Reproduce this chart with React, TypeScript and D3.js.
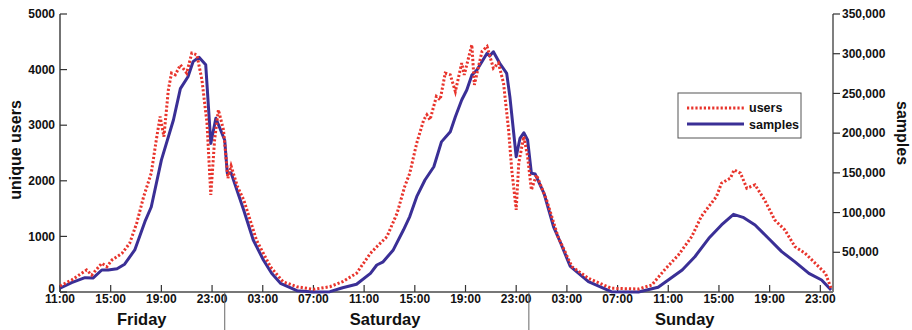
import React from "react";
import * as d3 from "d3";

// hours since Friday 11:00
const sampleHours = [0, 0.92, 1.97, 2.6, 3.3, 3.8, 4.5, 5.1, 5.9, 6.7, 7.2, 8.0, 8.95, 9.5, 10.1, 10.5, 10.97, 11.5, 11.9, 12.3, 13.0, 13.2, 13.5, 14.2, 14.5, 15.25, 16.05, 16.7, 17.4, 18.7, 20, 21.3, 22.3, 23.4, 24.5, 25, 25.5, 26.3, 27.1, 27.6, 28.15, 28.8, 29.5, 30.1, 30.8, 31.2, 31.7, 32.1, 32.5, 32.9, 33.7, 33.9, 34.2, 34.7, 35.25, 35.5, 36.0, 36.3, 36.6, 36.9, 37.2, 37.5, 38.2, 38.95, 39.5, 40.25, 41.7, 43.5, 45.65, 47.2, 48, 49.1, 50.1, 51.2, 52.2, 53.15, 53.9, 54.85, 55.9, 56.95, 58, 59.1, 60.1, 60.85];
const sampleValues = [4700, 11700, 18000, 17600, 27700, 27700, 29300, 35000, 53000, 88500, 107000, 166000, 216500, 256000, 271000, 290000, 295500, 286000, 187000, 218700, 191000, 149500, 150000, 117000, 103000, 65500, 40300, 23500, 11000, 1600, 0, 400, 5400, 9700, 23500, 34000, 38000, 53000, 78000, 95000, 120000, 141000, 157700, 189000, 201800, 220700, 241700, 254300, 273000, 279500, 300500, 297000, 302500, 288000, 275300, 246000, 170300, 193500, 200500, 191400, 149400, 148500, 124000, 82000, 62000, 32700, 13000, 400, 0, 5900, 15100, 27700, 44400, 67600, 84400, 97800, 94000, 84400, 67600, 50800, 38000, 23500, 15100, 2500];

const userHours = [0, 0.92, 2.1, 2.5, 3.3, 3.7, 4.1, 4.9, 5.5, 6.05, 6.6, 7.2, 7.6, 7.9, 8.2, 8.55, 8.8, 9.1, 9.5, 10.0, 10.4, 10.8, 11.2, 11.6, 11.9, 12.2, 12.5, 12.9, 13.25, 13.5, 14.0, 14.5, 15.5, 16.6, 17.6, 18.7, 20, 21.3, 22.3, 23.4, 24.5, 25, 25.8, 26.6, 27.2, 27.6, 28.15, 28.7, 28.95, 29.2, 29.7, 30.0, 30.4, 30.8, 31.2, 31.7, 31.9, 32.5, 32.7, 33.3, 33.7, 34.2, 34.6, 35.0, 35.4, 35.65, 36.0, 36.2, 36.6, 36.9, 37.2, 37.6, 38.4, 39.3, 40.4, 41.7, 43.5, 45.65, 46.7, 47.7, 48.8, 49.85, 50.6, 51.4, 51.8, 52.2, 52.9, 53.2, 53.7, 54.2, 54.85, 55.6, 56.4, 57.2, 58, 58.8, 59.6, 60.4, 60.85];
const userValues = [108, 216, 396, 306, 516, 455, 576, 697, 877, 1237, 1715, 2137, 2736, 3155, 2795, 3636, 3937, 3906, 4086, 3937, 4297, 4266, 3816, 3037, 1746, 2736, 3276, 2916, 2047, 2268, 1900, 1656, 936, 455, 185, 95, 48, 95, 185, 337, 697, 815, 995, 1417, 1895, 2137, 2677, 3096, 3186, 3096, 3516, 3456, 3937, 3906, 3606, 4117, 3906, 4446, 3726, 4326, 4416, 4026, 4117, 3757, 2916, 2196, 1476, 2317, 2796, 2436, 1836, 2106, 1656, 995, 455, 247, 67, 54, 126, 396, 666, 995, 1356, 1597, 1715, 1957, 2047, 2196, 2137, 1867, 1926, 1656, 1296, 1116, 815, 697, 516, 337, 67];

const hourTickPositions = [0, 4, 8, 12, 16, 20, 24, 28, 32, 36, 40, 44, 48, 52, 56, 60];
const hourTickLabels = ["11:00", "15:00", "19:00", "23:00", "03:00", "07:00", "11:00", "15:00", "19:00", "23:00", "03:00", "07:00", "11:00", "15:00", "19:00", "23:00"];
const dayNames = ["Friday", "Saturday", "Sunday"];
const dayLabelHours = [6.45, 25.65, 49.3];
const dayBoundaryHours = [13, 37];
const leftTicks = [0, 1000, 2000, 3000, 4000, 5000];
const rightTicks = [50000, 100000, 150000, 200000, 250000, 300000, 350000];
const seriesNames = ["users", "samples"];

const RED = "#e8342c";
const BLUE = "#3a2f96";
const FONT = "'Liberation Sans', Arial, Helvetica, sans-serif";

export default function App() {
  const W = 912, H = 330;
  const x0 = 60, x1 = 833, yTop = 14, yBot = 292;
  const x = d3.scaleLinear().domain([0, 61]).range([x0, x1]);
  const yL = d3.scaleLinear().domain([0, 5000]).range([yBot, yTop]);
  const yR = d3.scaleLinear().domain([0, 350000]).range([yBot, yTop]);

  const userLine = d3.line<number>().x((_, i) => x(userHours[i])).y((d) => yL(d))(userValues) || "";
  const sampleLine = d3.line<number>().x((_, i) => x(sampleHours[i])).y((d) => yR(d))(sampleValues) || "";
  const fmt = d3.format(",");

  return (
    <svg width={W} height={H} style={{ position: "absolute", left: 0, top: 0, display: "block", background: "#fff" }} fontFamily={FONT}>
      <rect x={0} y={0} width={W} height={H} fill="#fff" />
      {/* axes */}
      <line x1={x0} x2={x0} y1={yTop} y2={yBot} stroke="#444" strokeWidth={1.5} />
      <line x1={x1} x2={x1} y1={yTop} y2={yBot} stroke="#555" strokeWidth={1.5} />
      <line x1={x0} x2={x1} y1={yBot} y2={yBot} stroke="#777" strokeWidth={2} />
      {leftTicks.map((t) => (
        <g key={"l" + t}>
          <line x1={x0} x2={x0 + 7} y1={yL(t)} y2={yL(t)} stroke="#333" strokeWidth={1.2} />
          <text x={x0 - 5} y={yL(t) - (t === 0 ? 3 : 0)} dy="0.35em" textAnchor="end" fontSize={12} fontWeight="bold" fill="#111">{t}</text>
        </g>
      ))}
      {rightTicks.map((t) => (
        <g key={"r" + t}>
          <line x1={x1} x2={x1 + 7} y1={yR(t)} y2={yR(t)} stroke="#333" strokeWidth={1.2} />
          <text x={x1 + 9} y={yR(t)} dy="0.35em" textAnchor="start" fontSize={12} fontWeight="bold" fill="#111">{fmt(t)}</text>
        </g>
      ))}
      {hourTickPositions.map((h, i) => (
        <g key={"h" + i}>
          <line x1={x(h)} x2={x(h)} y1={yBot} y2={yBot - 7} stroke="#333" strokeWidth={1.2} />
          <text x={x(h)} y={yBot + 10.5} textAnchor="middle" fontSize={12} fontWeight="bold" fill="#111">{hourTickLabels[i]}</text>
        </g>
      ))}
      {dayBoundaryHours.map((h) => (
        <line key={"d" + h} x1={x(h)} x2={x(h)} y1={yBot} y2={H} stroke="#666" strokeWidth={1} />
      ))}
      {dayNames.map((d, i) => (
        <text key={d} x={x(dayLabelHours[i])} y={325} textAnchor="middle" fontSize={16.5} fontWeight="bold" fill="#111">{d}</text>
      ))}
      <text transform="translate(21,150) rotate(-90)" textAnchor="middle" fontSize={16} fontWeight="bold" fill="#111">unique users</text>
      <text transform="translate(897,133) rotate(90)" textAnchor="middle" fontSize={16} fontWeight="bold" fill="#111">samples</text>
      {/* series */}
      <path d={sampleLine} fill="none" stroke={BLUE} strokeWidth={3} strokeLinejoin="round" />
      <path d={userLine} fill="none" stroke={RED} strokeWidth={3} strokeDasharray="2.2,2" />
      {/* legend */}
      <rect x={678} y={93} width={123} height={45} fill="#fff" stroke="#555" strokeWidth={1} />
      <line x1={687} x2={744} y1={108} y2={108} stroke={RED} strokeWidth={3} strokeDasharray="2.2,2" />
      <line x1={687} x2={744} y1={124} y2={124} stroke={BLUE} strokeWidth={3} />
      <text x={749} y={112} fontSize={12.5} fontWeight="bold" fill="#111">{seriesNames[0]}</text>
      <text x={749} y={128.5} fontSize={12.5} fontWeight="bold" fill="#111">{seriesNames[1]}</text>
    </svg>
  );
}
